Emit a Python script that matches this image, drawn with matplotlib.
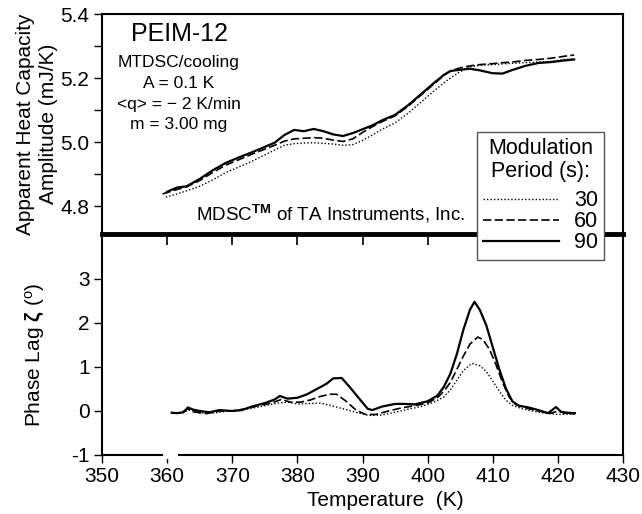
import matplotlib
matplotlib.use("Agg")
import matplotlib.pyplot as plt
from matplotlib.lines import Line2D
from matplotlib.patches import Rectangle
from matplotlib.ticker import MultipleLocator

plt.rcParams['font.family'] = ['Liberation Sans', 'DejaVu Sans']
plt.rcParams['mathtext.fontset'] = 'custom'
plt.rcParams['mathtext.rm'] = 'Liberation Sans'
plt.rcParams['mathtext.it'] = 'Liberation Sans:italic'
plt.rcParams['mathtext.bf'] = 'Liberation Sans:bold'

# ---------------- data ----------------
periods = ["30", "60", "90"]

# Apparent heat capacity amplitude (mJ/K)
T_cp90 = [360.0, 361.5, 363.0, 365.0, 367.0, 369.0, 371.0, 373.0, 375.0, 376.5, 378.0, 379.5,
          381.0, 382.5, 384.0, 385.5, 387.0, 388.5, 390.0, 391.5, 393.0, 395.0, 397.0, 399.0,
          401.0, 402.5, 403.5, 405.0, 406.5, 408.0, 410.0, 411.5, 413.0, 415.0, 417.0, 419.0,
          421.0, 422.5]
cp90 = [4.845, 4.858, 4.862, 4.885, 4.912, 4.935, 4.952, 4.968, 4.985, 4.998, 5.022, 5.038,
        5.034, 5.041, 5.034, 5.024, 5.019, 5.028, 5.040, 5.052, 5.068, 5.085, 5.115, 5.150,
        5.185, 5.210, 5.222, 5.226, 5.229, 5.224, 5.215, 5.214, 5.225, 5.238, 5.247, 5.250,
        5.255, 5.258]

T_cp60 = [359.3, 361.5, 363.0, 365.0, 367.0, 369.0, 371.0, 373.0, 375.0, 376.5, 378.0, 379.5,
          381.0, 382.5, 384.0, 385.5, 387.0, 388.5, 390.0, 391.5, 393.0, 395.0, 397.0, 399.0,
          401.0, 402.5, 403.5, 405.0, 406.5, 408.0, 410.0, 411.5, 413.0, 415.0, 417.0, 419.0,
          421.0, 422.5]
cp60 = [4.838, 4.852, 4.860, 4.880, 4.905, 4.928, 4.945, 4.962, 4.978, 4.990, 5.003, 5.010,
        5.012, 5.014, 5.012, 5.006, 5.002, 5.010, 5.030, 5.048, 5.064, 5.082, 5.112, 5.147,
        5.182, 5.208, 5.222, 5.232, 5.238, 5.242, 5.245, 5.248, 5.250, 5.255, 5.258, 5.262,
        5.268, 5.272]

T_cp30 = [359.8, 361.5, 363.0, 365.0, 367.0, 369.0, 371.0, 373.0, 375.0, 376.5, 378.0, 379.5,
          381.0, 382.5, 384.0, 385.5, 387.0, 388.5, 390.0, 391.5, 393.0, 395.0, 397.0, 399.0,
          401.0, 402.5, 403.5, 405.0, 406.5, 408.0, 410.0, 411.5, 413.0, 415.0, 417.0, 419.0,
          421.0, 422.5]
cp30 = [4.828, 4.838, 4.848, 4.862, 4.882, 4.905, 4.922, 4.940, 4.960, 4.975, 4.990, 4.995,
        4.997, 4.998, 4.996, 4.994, 4.990, 4.992, 5.005, 5.022, 5.040, 5.060, 5.090, 5.125,
        5.160, 5.185, 5.200, 5.220, 5.235, 5.240, 5.242, 5.244, 5.246, 5.248, 5.250, 5.252,
        5.258, 5.260]

# Phase lag (degrees)
T_ph90 = [360.7, 361.5, 362.5, 363.2, 364.0, 365.0, 366.5, 368.0, 370.0, 371.5, 373.0, 375.0,
          376.5, 377.3, 378.5, 380.0, 381.5, 383.0, 384.5, 385.5, 386.8, 388.0, 389.5, 390.8,
          391.5, 393.0, 395.0, 396.5, 398.0, 400.0, 401.5, 402.5, 403.5, 404.5, 405.5, 406.5,
          407.2, 408.0, 409.0, 410.0, 411.0, 412.0, 413.0, 414.0, 415.5, 417.0, 418.5, 419.7,
          420.5, 421.5, 422.6]
ph90 = [-0.04, -0.05, -0.03, 0.08, 0.03, 0.00, -0.03, 0.02, 0.00, 0.02, 0.10, 0.18,
        0.26, 0.34, 0.28, 0.30, 0.38, 0.50, 0.62, 0.74, 0.75, 0.55, 0.28, 0.05,
        0.02, 0.10, 0.16, 0.16, 0.15, 0.22, 0.35, 0.55, 0.85, 1.30, 1.85, 2.30,
        2.48, 2.30, 1.95, 1.45, 0.95, 0.52, 0.22, 0.12, 0.08, 0.02, -0.05, 0.09,
        -0.02, -0.04, -0.05]

T_ph60 = [360.7, 362.0, 363.2, 364.0, 366.0, 368.0, 370.0, 372.0, 374.0, 376.0, 377.5, 379.0,
          380.5, 382.0, 383.5, 385.0, 386.0, 387.5, 389.0, 390.5, 392.0, 394.0, 396.0, 398.0,
          400.0, 401.5, 402.5, 403.5, 404.5, 405.5, 406.5, 407.7, 408.5, 409.5, 410.5, 411.5,
          412.5, 413.5, 415.0, 417.0, 419.0, 420.0, 421.0, 422.6]
ph60 = [-0.04, -0.05, 0.05, -0.02, -0.06, 0.00, 0.00, 0.05, 0.12, 0.18, 0.26, 0.20,
        0.20, 0.25, 0.33, 0.38, 0.38, 0.22, 0.02, -0.08, -0.08, 0.00, 0.07, 0.12,
        0.18, 0.30, 0.45, 0.65, 0.95, 1.25, 1.52, 1.68, 1.62, 1.40, 1.05, 0.65,
        0.32, 0.15, 0.07, 0.00, -0.05, 0.00, -0.05, -0.06]

T_ph30 = [360.7, 362.0, 363.5, 365.0, 367.0, 369.0, 371.0, 373.0, 375.0, 377.0, 378.5, 380.0,
          382.0, 383.5, 385.0, 386.5, 388.0, 389.5, 391.0, 393.0, 395.0, 397.0, 399.0, 401.0,
          402.5, 403.5, 404.5, 405.5, 406.8, 408.0, 409.0, 410.0, 411.0, 412.0, 413.0, 414.5,
          416.0, 418.0, 420.0, 422.6]
ph30 = [-0.05, -0.05, 0.02, -0.04, -0.05, -0.01, 0.02, 0.06, 0.12, 0.18, 0.20, 0.16,
        0.17, 0.18, 0.13, 0.07, 0.01, -0.05, -0.10, -0.09, -0.03, 0.04, 0.10, 0.20,
        0.32, 0.48, 0.70, 0.92, 1.08, 1.03, 0.90, 0.68, 0.45, 0.25, 0.13, 0.05,
        0.00, -0.05, -0.08, -0.07]

x_ticks = [350, 360, 370, 380, 390, 400, 410, 420, 430]
cp_ticks = [4.8, 5.0, 5.2, 5.4]
ph_ticks = [-1, 0, 1, 2, 3]
ph_ticklabels = ["-1", "0", "1", "2", "3"]

# ---------------- figure ----------------
W, H = 642, 514
fig = plt.figure(figsize=(W / 100, H / 100), dpi=100)
left, right = 102 / W, 623 / W
y_top, y_mid, y_bot = 1 - 14 / H, 1 - 234 / H, 1 - 455 / H

ax1 = fig.add_axes([left, y_mid, right - left, y_top - y_mid])
ax2 = fig.add_axes([left, y_bot, right - left, y_mid - y_bot], sharex=ax1)
ax2.patch.set_visible(False)

styles = {
    "30": dict(color='black', lw=1.0, linestyle=(0, (1, 1.5))),
    "60": dict(color='black', lw=1.2, linestyle=(0, (5, 2))),
    "90": dict(color='black', lw=1.6, linestyle='-'),
}

ax1.plot(T_cp30, cp30, **styles["30"])
ax1.plot(T_cp60, cp60, **styles["60"])
ax1.plot(T_cp90, cp90, **styles["90"])

ax2.plot(T_ph30, ph30, **styles["30"])
ax2.plot(T_ph60, ph60, **styles["60"])
ax2.plot(T_ph90, ph90, **styles["90"])

ax1.set_xlim(350, 430)
ax1.set_ylim(4.713, 5.4)
ax2.set_ylim(-1, 4.02)

fs = 15
# top panel axes
ax1.set_yticks(cp_ticks)
ax1.set_yticklabels([f"{v:.1f}" for v in cp_ticks])
ax1.yaxis.set_minor_locator(MultipleLocator(0.1))
ax1.tick_params(axis='y', which='major', direction='out', length=6, width=1, labelsize=fs, pad=3)
ax1.tick_params(axis='y', which='minor', direction='out', length=6, width=1)
ax1.tick_params(axis='x', which='both', bottom=False, labelbottom=False)
for s in ['left', 'top', 'right']:
    ax1.spines[s].set_linewidth(1.5)
ax1.spines['bottom'].set_linewidth(3.5)

# bottom panel axes
ax2.set_xticks(x_ticks)
ax2.set_xticklabels([str(v) for v in x_ticks])
ax2.set_yticks(ph_ticks)
ax2.set_yticklabels(ph_ticklabels)
ax2.tick_params(axis='both', which='major', direction='out', length=6, width=1, labelsize=fs, pad=3)
ax2.spines['top'].set_visible(False)
for s in ['left', 'bottom', 'right']:
    ax2.spines[s].set_linewidth(1.5)

# tick marks hanging down from the divider line, at the x tick positions
ax2.vlines(x_ticks[1:-1], 1 - 11 / 221, 1, transform=ax2.get_xaxis_transform(),
           colors='black', linewidth=1.2, clip_on=False, zorder=3)

# axis break on the bottom axis
ax2.add_patch(Rectangle((359.4, -0.02), 2.2, 0.04, transform=ax2.get_xaxis_transform(),
                        facecolor='white', edgecolor='none', clip_on=False, zorder=5))

# labels
fig.text(26 / W, 1 - 124 / H, "Apparent Heat Capacity", rotation=90, ha='center', va='center', fontsize=fs)
fig.text(49 / W, 1 - 124 / H, "Amplitude (mJ/K)", rotation=90, ha='center', va='center', fontsize=fs)
fig.text(35 / W, 1 - 355 / H, r"Phase Lag $\mathbf{\zeta}$ ($^{\rm o}$)", rotation=90, ha='center',
         va='center', fontsize=fs)
fig.text(385 / W, 1 - 500 / H, "Temperature  (K)", ha='center', va='center', fontsize=fs)

# annotations
fig.text(180 / W, 1 - 34 / H, "PEIM-12", ha='center', va='center', fontsize=18)
fs_s = 12.5
for txt, yy in [("MTDSC/cooling", 63), ("A = 0.1 K", 83), ("<q> = \u2212 2 K/min", 104), ("m = 3.00 mg", 124)]:
    fig.text(179 / W, 1 - yy / H, txt, ha='center', va='center', fontsize=fs_s)
fig.text(330 / W, 1 - 214 / H, r"MDSC$^{\mathbf{TM}}$ of TA Instruments, Inc.", ha='center', va='center',
         fontsize=13.5)

# legend
handles = [Line2D([], [], **styles[p]) for p in periods]
leg = fig.legend(handles, periods, loc='upper left', bbox_to_anchor=(477 / W, 1 - 132 / H),
                 bbox_transform=fig.transFigure, title="Modulation\nPeriod (s):",
                 fontsize=15.5, title_fontsize=15.5, frameon=True, fancybox=False, framealpha=1,
                 handlelength=3.5, handletextpad=0.7, labelspacing=0.0, borderpad=0.3,
                 borderaxespad=0)
leg.get_frame().set_edgecolor('#555555')
leg.get_frame().set_linewidth(1.0)
leg.get_frame().set_facecolor('white')
leg.get_title().set_multialignment('center')
leg.get_title().set_linespacing(1.1)
leg._legend_box.sep = 6
leg.set_zorder(10)

fig.savefig("out.png", dpi=100)
